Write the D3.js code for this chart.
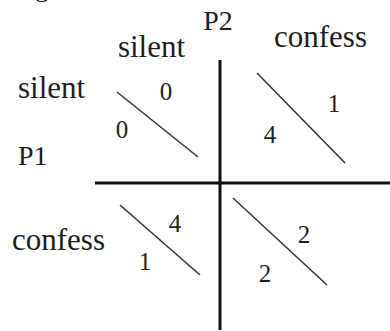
<!DOCTYPE html>
<html lang="en">

<head>
    <meta charset="UTF-8" />
    <title>Prisoner's dilemma payoff matrix</title>
    <script src="https://d3js.org/d3.v7.min.js"></script>
    <style>
        body {
            margin: 0;
            background: #fff;
        }

        svg text {
            font-family: "Liberation Serif", "Times New Roman", serif;
            fill: #1e1e1e;
        }
    </style>
</head>

<body>
    <div id="chart"></div>

    <script>
        // data
        const strategies = ["silent", "confess"];
        const players = ["P1", "P2"];
        // [row = P1 strategy][col = P2 strategy]
        const p1Payoffs = [[0, 4], [1, 2]];
        const p2Payoffs = [[0, 1], [4, 2]];

        const width = 390, height = 331;

        // hand-drawn layout nudges per cell: diagonal ends and number anchors (relative to cell origin)
        const cellLayout = [
            [{ d: [22, 32, 103, 97], p2: [71, 40], p1: [27, 78] },
             { d: [37, 13, 125, 103], p2: [114, 52], p1: [50, 83] }],
            [{ d: [25, 22, 105, 92], p2: [80, 49], p1: [50, 87] },
             { d: [13, 15, 107, 102], p2: [84, 60], p1: [45, 99] }]
        ];

        const svg = d3.select("#chart")
            .append("svg")
            .attr("width", width)
            .attr("height", height);

        const x = d3.scaleBand()
            .domain(strategies)
            .range([95, 345]);

        const y = d3.scaleBand()
            .domain(strategies)
            .range([60, 306]);

        // fragment of caption above, cut off by the crop
        svg.append("text")
            .attr("x", 35)
            .attr("y", -4)
            .style("font-size", "28px")
            .text("g");

        // grid lines
        svg.append("line")
            .attr("x1", x("confess")).attr("x2", x("confess"))
            .attr("y1", y.range()[0]).attr("y2", 330)
            .attr("stroke", "#111").attr("stroke-width", 3);

        svg.append("line")
            .attr("x1", x.range()[0]).attr("x2", width)
            .attr("y1", y("confess")).attr("y2", y("confess"))
            .attr("stroke", "#111").attr("stroke-width", 3);

        // player labels
        svg.append("text")
            .attr("x", x("confess") - 2)
            .attr("y", 30)
            .attr("text-anchor", "middle")
            .style("font-size", "28px")
            .text(players[1]);

        svg.append("text")
            .attr("x", 18)
            .attr("y", 165)
            .style("font-size", "28px")
            .text(players[0]);

        // column headers (P2)
        const colNudge = { silent: [-6, 57], confess: [38, 47] };
        svg.selectAll(".col-label")
            .data(strategies)
            .enter().append("text")
            .attr("class", "col-label")
            .attr("x", d => x(d) + x.bandwidth() / 2 + colNudge[d][0])
            .attr("y", d => colNudge[d][1])
            .attr("text-anchor", "middle")
            .style("font-size", "31px")
            .text(d => d);

        // row headers (P1)
        const rowNudge = { silent: [18, 38], confess: [12, 67] };
        svg.selectAll(".row-label")
            .data(strategies)
            .enter().append("text")
            .attr("class", "row-label")
            .attr("x", d => rowNudge[d][0])
            .attr("y", d => y(d) + rowNudge[d][1])
            .style("font-size", "31px")
            .text(d => d);

        // cells
        const cells = [];
        strategies.forEach((r, i) => strategies.forEach((c, j) => {
            cells.push({ r, c, p1: p1Payoffs[i][j], p2: p2Payoffs[i][j], lay: cellLayout[i][j] });
        }));

        const cell = svg.selectAll(".cell")
            .data(cells)
            .enter().append("g")
            .attr("class", "cell")
            .attr("transform", d => `translate(${x(d.c)},${y(d.r)})`);

        cell.append("line")
            .attr("x1", d => d.lay.d[0]).attr("y1", d => d.lay.d[1])
            .attr("x2", d => d.lay.d[2]).attr("y2", d => d.lay.d[3])
            .attr("stroke", "#333").attr("stroke-width", 1.5);

        cell.append("text")
            .attr("x", d => d.lay.p2[0])
            .attr("y", d => d.lay.p2[1])
            .attr("text-anchor", "middle")
            .style("font-size", "25px")
            .text(d => d.p2);

        cell.append("text")
            .attr("x", d => d.lay.p1[0])
            .attr("y", d => d.lay.p1[1])
            .attr("text-anchor", "middle")
            .style("font-size", "25px")
            .text(d => d.p1);
    </script>

</body>

</html>
